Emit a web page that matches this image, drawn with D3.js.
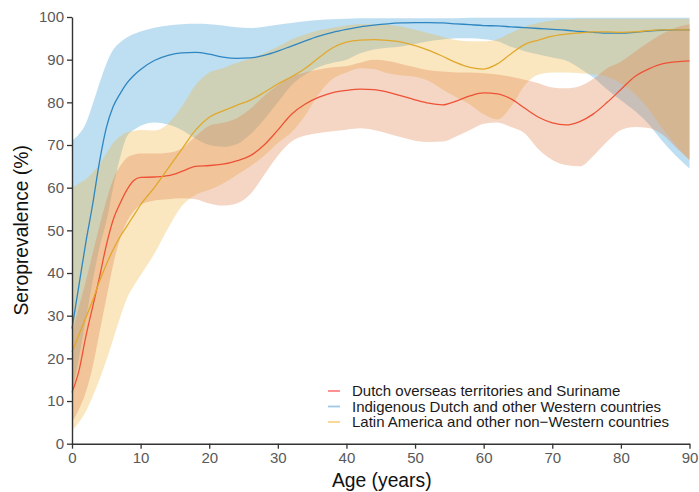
<!DOCTYPE html>
<html>
<head>
<meta charset="utf-8">
<script src="https://cdn.jsdelivr.net/npm/d3@7"></script>
<style>
  body { margin: 0; background: #fff; }
  text { font-family: "Liberation Sans", Arial, sans-serif; }
</style>
</head>
<body>
<svg id="chart" width="699" height="492"></svg>
<script>
const width = 699;
const height = 492;
const margin = { top: 17, right: 10, bottom: 49, left: 72 };

// Age grid shared by all series
const ages = [0, 1, 2, 3, 4, 5, 6, 7, 8, 9, 10, 12, 14, 16, 18, 20, 22, 24, 26, 28, 30,
  32, 34, 36, 38, 40, 42, 44, 46, 48, 50, 52, 54, 56, 58, 60, 62, 64, 66, 68, 70,
  72, 74, 76, 78, 80, 82, 84, 86, 88, 90];

// Dutch overseas territories and Suriname
const dutchOverseasMid = [12, 17, 25, 32, 39, 46.5, 52.5, 56.3, 59.5, 61.7, 62.4, 62.5, 62.8, 63.8, 65, 65.2, 65.5, 66.3, 67.5, 70, 73.5,
  77.2, 79.6, 81.2, 82.3, 82.8, 83.1, 83, 82.4, 81.5, 80.6, 79.8, 79.4, 80.3, 81.5, 82.2, 82, 80.8, 78.6, 76.5, 75.2,
  74.7, 75.5, 77.3, 80, 83, 86, 87.8, 89, 89.5, 89.7];
const dutchOverseasUpper = [26, 32, 38, 44.5, 51, 57, 62, 65, 67, 67.7, 68, 68, 68.2, 69.2, 72, 74.5, 75.2, 76.3, 78.5, 81.5, 84,
  86, 87, 87.7, 88.2, 88.5, 89.3, 90, 89.7, 89, 88.2, 87.5, 87.2, 87, 87, 86.8, 86.5, 86, 85.3, 84.5, 83.5,
  83.3, 83.8, 85.5, 88, 89.5, 91.8, 94, 96, 97.5, 98.3];
const dutchOverseasLower = [5, 8, 12, 18, 26, 34, 42, 48, 52, 54.5, 56, 57, 57.3, 57.5, 57.3, 56.3, 55.8, 56.3, 58.5, 63, 67.5,
  70.8, 72.2, 72.8, 73.2, 73.6, 73.9, 73.5, 72.7, 71.8, 71, 70.7, 70.8, 72, 73.5, 75, 75.3, 74.2, 72.7, 69, 66.5,
  65.3, 65, 67.5, 70.8, 73.5, 74.2, 74, 72.5, 69.5, 66.5];

// Indigenous Dutch and other Western countries
const indigenousMid = [27, 37, 47, 56, 66, 74, 79, 82, 84.5, 86.3, 87.7, 89.8, 91, 91.6, 91.7, 91.3, 90.6, 90.3, 90.4, 91, 92,
  93.2, 94.4, 95.5, 96.4, 97.1, 97.7, 98.1, 98.4, 98.6, 98.7, 98.7, 98.6, 98.4, 98.2, 98, 97.9, 97.7, 97.5, 97.3, 97.1,
  96.9, 96.6, 96.4, 96.2, 96.2, 96.4, 96.7, 96.9, 97, 97];
const indigenousUpper = [71, 72.5, 75, 79.5, 84.5, 89, 92.3, 94, 95.2, 96, 96.6, 97.5, 98, 98.3, 98.4, 98.3, 98, 97.6, 97.4, 97.7, 98.2,
  98.6, 99, 99.3, 99.5, 99.6, 99.7, 99.7, 99.7, 99.7, 99.7, 99.7, 99.7, 99.7, 99.8, 99.8, 99.8, 99.8, 99.8, 99.8, 99.8,
  99.8, 99.8, 99.8, 99.8, 99.8, 99.8, 99.8, 99.8, 99.8, 99.8];
const indigenousLower = [12, 20, 29, 38, 46, 52, 60, 67, 72, 73.5, 74.5, 75.3, 74.8, 73.5, 71.5, 70, 69.6, 70.2, 72.5, 76, 80,
  84, 86.5, 88.3, 89.3, 90, 91.5, 92.4, 92.8, 93.1, 93.7, 94.3, 94.7, 95, 95, 94.8, 94.3, 93, 92, 91.2, 90.5,
  89.8, 88, 85.8, 83, 80.5, 78, 75, 71, 67.5, 64.5];

// Latin America and other non-Western countries
const latinMid = [21.5, 25.5, 29.5, 33.5, 38, 42, 45.5, 48.5, 51, 53.5, 56, 60, 64.5, 69, 73.5, 76.5, 78, 79.3, 80.5, 82.3, 84.3,
  86, 88, 90.5, 92.8, 94.1, 94.6, 94.7, 94.5, 94.1, 93.3, 92.2, 90.8, 89.3, 88.2, 87.8, 89, 91.4, 93.6, 94.6, 95.5,
  96, 96.3, 96.5, 96.5, 96.4, 96.5, 96.8, 97, 97, 97];
const latinUpper = [60, 61, 62, 63.5, 65.5, 68, 70.5, 72, 73, 73.3, 73.5, 73.4, 75, 79, 84, 87, 88, 89.2, 90.3, 91.5, 93,
  94.7, 95.9, 96.9, 97.5, 98, 98.3, 98.3, 98.2, 97.8, 97, 96.2, 95.4, 94.6, 94.3, 94.3, 94.8, 96.3, 97.8, 98.6, 99.2,
  99.4, 99.6, 99.6, 99.6, 99.6, 99.6, 99.6, 99.6, 99.6, 99.6];
const latinLower = [3, 5, 7.5, 11, 15, 19.5, 24.5, 29.5, 34, 37, 39.5, 44.5, 50.5, 55.7, 58.3, 59.5, 61, 63, 65, 67.5, 70.5,
  73, 77, 82, 85.5, 87, 88, 87.8, 86.8, 86.3, 86, 85, 83, 81.2, 79.5, 77.2, 76, 79, 84, 86.5, 87,
  87, 86.8, 86.5, 86, 84.5, 82, 78.5, 74, 70, 66.5];

const legendLabels = [
  "Dutch overseas territories and Suriname",
  "Indigenous Dutch and other Western countries",
  "Latin America and other non\u2212Western countries"
];
const xTicks = [0, 10, 20, 30, 40, 50, 60, 70, 80, 90];
const yTicks = [0, 10, 20, 30, 40, 50, 60, 70, 80, 90, 100];

const series = [
  { name: legendLabels[0], mid: dutchOverseasMid, lo: dutchOverseasLower, hi: dutchOverseasUpper,
    line: "#ee5236", fill: "#e0804a", key: "#ff8585" },
  { name: legendLabels[1], mid: indigenousMid, lo: indigenousLower, hi: indigenousUpper,
    line: "#2e86c0", fill: "#3a9ad4", key: "#9fc8e6" },
  { name: legendLabels[2], mid: latinMid, lo: latinLower, hi: latinUpper,
    line: "#e1a82c", fill: "#efb540", key: "#f9d38c" }
];

const svg = d3.select("#chart");
const g = svg.append("g").attr("transform", `translate(${margin.left},${margin.top})`);
const iw = width - margin.left - margin.right;
const ih = height - margin.top - margin.bottom;

const x = d3.scaleLinear().domain([0, 90]).range([0, iw + 0.5]);
const y = d3.scaleLinear().domain([0, 100]).range([ih + 0.7, 0]);

const area = d3.area()
  .x((d, i) => x(ages[i]))
  .y0(d => y(d[0]))
  .y1(d => y(d[1]))
  .curve(d3.curveMonotoneX);

const line = d3.line()
  .x((d, i) => x(ages[i]))
  .y(d => y(d))
  .curve(d3.curveMonotoneX);

// Ribbons: blue first, then yellow, then red (gives the overlap tones)
[series[1], series[2], series[0]].forEach(s => {
  g.append("path")
    .datum(ages.map((a, i) => [s.lo[i], s.hi[i]]))
    .attr("d", area)
    .attr("fill", s.fill)
    .attr("fill-opacity", 0.33);
});

series.forEach(s => {
  g.append("path")
    .datum(s.mid)
    .attr("d", line)
    .attr("fill", "none")
    .attr("stroke", s.line)
    .attr("stroke-width", 1.3);
});

// Axes
const xAxis = g.append("g")
  .attr("transform", `translate(0,${y(0)})`)
  .call(d3.axisBottom(x).tickValues(xTicks).tickSize(5).tickPadding(4).tickSizeOuter(0));
const yAxis = g.append("g")
  .call(d3.axisLeft(y).tickValues(yTicks).tickSize(5).tickPadding(3).tickSizeOuter(0));

[xAxis, yAxis].forEach(ax => {
  ax.select(".domain").attr("stroke", "#333").attr("stroke-width", 1.4);
  ax.selectAll(".tick line").attr("stroke", "#333").attr("stroke-width", 1.3);
  ax.selectAll(".tick text")
    .attr("fill", "#595959")
    .style("font-size", "15px")
    .style("font-family", "'Liberation Sans', Arial, sans-serif");
});

// Axis titles
svg.append("text")
  .attr("x", margin.left + x(45) + 1)
  .attr("y", 487)
  .attr("text-anchor", "middle")
  .style("font-size", "19.3px")
  .attr("fill", "#111")
  .text("Age (years)");

svg.append("text")
  .attr("transform", `translate(28,${margin.top + y(50)}) rotate(-90)`)
  .attr("text-anchor", "middle")
  .style("font-size", "19.3px")
  .attr("fill", "#111")
  .text("Seroprevalence (%)");

// Legend
const legend = svg.append("g").attr("transform", "translate(328,391)");
series.forEach((s, i) => {
  const row = legend.append("g").attr("transform", `translate(0,${i * 15.5})`);
  row.append("line")
    .attr("x1", 0).attr("x2", 12)
    .attr("y1", 0).attr("y2", 0)
    .attr("stroke", s.key)
    .attr("stroke-width", 1.8);
  row.append("text")
    .attr("x", 24)
    .attr("y", 0)
    .attr("dy", "0.36em")
    .style("font-size", "15px")
    .attr("fill", "#1a1a1a")
    .text(s.name);
});
</script>
</body>
</html>
